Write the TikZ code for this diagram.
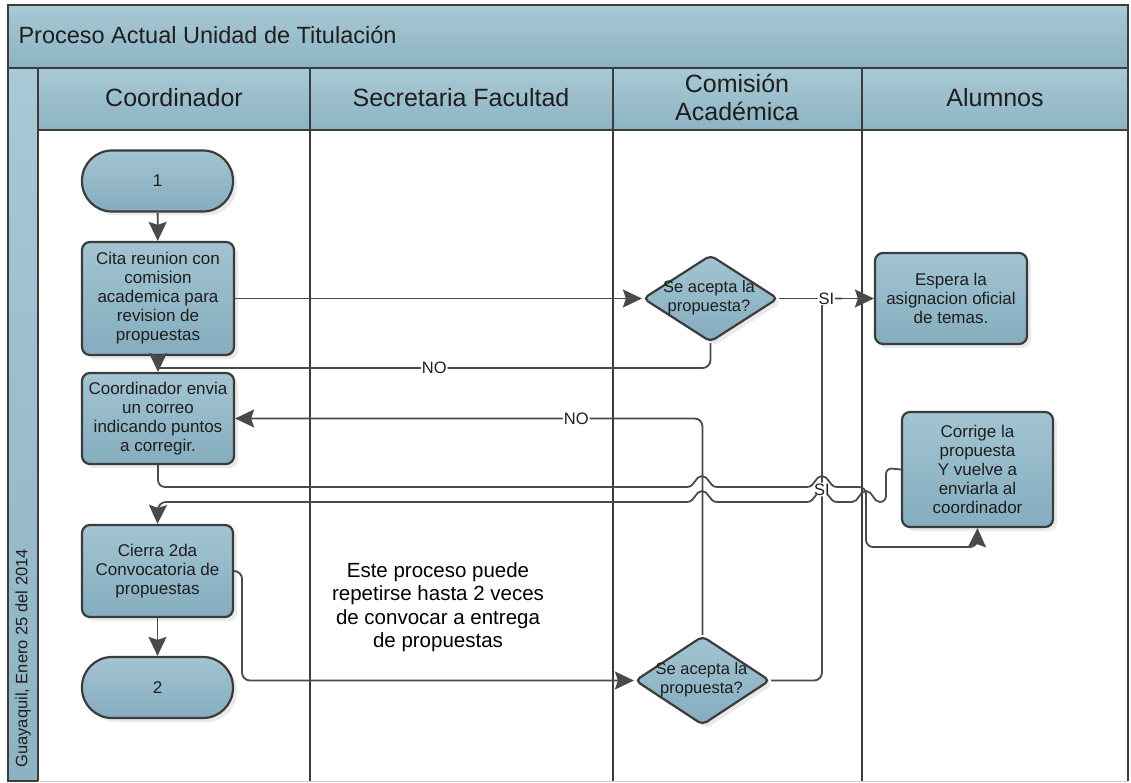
\documentclass[tikz,border=0pt]{standalone}
\usepackage{fontspec}
\setmainfont{Liberation Sans}
\usetikzlibrary{arrows.meta,shapes.geometric,shadows}

\definecolor{laneline}{HTML}{3C3C3C}
\definecolor{connline}{HTML}{4A4A4A}
\definecolor{boxtop}{HTML}{A3C4D1}
\definecolor{boxbot}{HTML}{84ADBF}
\definecolor{headtop}{HTML}{A8C9D5}
\definecolor{headbot}{HTML}{8DB3C3}
\definecolor{inktext}{HTML}{1E1E1E}

\begin{document}
\begin{tikzpicture}[x=1pt,y=-1pt,
  every node/.style={text=inktext},
  shade/.style={drop shadow={shadow xshift=4pt,shadow yshift=-4pt,opacity=0.16}},
  flowbox/.style={draw=laneline, line width=2.2pt, rounded corners=8pt,
    top color=boxtop, bottom color=boxbot, align=center, inner sep=0pt,
    font=\fontsize{17}{19}\selectfont, shade},
  terminal/.style={flowbox, rounded corners=30pt, minimum width=151pt, minimum height=61pt},
  decision/.style={draw=laneline, line width=2.2pt, diamond, rounded corners=5pt,
    top color=boxtop, bottom color=boxbot, inner sep=0pt, shade},
  dtext/.style={align=center, inner sep=0pt, font=\fontsize{16.5}{19}\selectfont},
  cell/.style={draw=laneline, line width=2.5pt, top color=headtop, bottom color=headbot},
  headtext/.style={align=center, font=\fontsize{25}{28}\selectfont},
  lane/.style={draw=laneline, line width=2.5pt},
  conn/.style={draw=connline, line width=1.8pt},
  arrow/.style={-{Stealth[length=19pt,width=18pt,inset=3pt]}},
  lbl/.style={fill=white, inner sep=1pt, font=\fontsize{16.5}{19}\selectfont}
]
\useasboundingbox (0,0) rectangle (1131,783);
\fill[white] (0,0) rectangle (1131,783);

% frame, title bar and lane headers
\path[cell] (8,5) rectangle (1128,68);
\node[anchor=west, font=\fontsize{23.5}{28}\selectfont] (title) at (15,35) {Proceso Actual Unidad de Titulación};
\path[cell] (8,68) rectangle (38,781);
\path[cell] (38,68) rectangle (310,130);
\path[cell] (310,68) rectangle (613,130);
\path[cell] (613,68) rectangle (862,130);
\path[cell] (862,68) rectangle (1128,130);
\node[headtext] (hcoord) at (174,98) {Coordinador};
\node[headtext] (hsecr) at (461,98) {Secretaria Facultad};
\node[headtext] (hcomi) at (737,97) {Comisión\\Académica};
\node[headtext] (halum) at (995,98) {Alumnos};
\draw[lane] (310,130) -- (310,781);
\draw[lane] (613,130) -- (613,781);
\draw[lane] (862,130) -- (862,781);
\draw[lane] (1128,130) -- (1128,781);
\draw[gray!40, line width=1pt] (38,781) -- (1128,781);
\node[rotate=90, anchor=west, font=\fontsize{16.5}{19}\selectfont] (datenote) at (23,771) {Guayaquil, Enero 25 del 2014};

% process steps
\node[terminal] (t1) at (157.5,181) {1};
\node[flowbox, minimum width=152pt, minimum height=113pt] (b1) at (158,298.5)
  {Cita reunion con\\comision\\academica para\\revision de\\propuestas};
\node[flowbox, minimum width=152pt, minimum height=91pt] (b2) at (158,418.5)
  {Coordinador envia\\un correo\\indicando puntos\\a corregir.};
\node[flowbox, minimum width=151pt, minimum height=92pt] (b3) at (157.5,571)
  {Cierra 2da\\Convocatoria de\\propuestas};
\node[terminal] (t2) at (157.5,687.5) {2};
\node[decision, minimum width=135pt, minimum height=87pt] (dA) at (710.5,298.5) {};
\node[dtext] (dAtext) at (709,297.5) {Se acepta la\\propuesta?};
\node[decision, minimum width=135pt, minimum height=89pt] (dB) at (702.5,680.5) {};
\node[dtext] (dBtext) at (701.5,680) {Se acepta la\\propuesta?};
\node[flowbox, minimum width=152pt, minimum height=91pt] (eA) at (951,298.5)
  {Espera la\\asignacion oficial\\de temas.};
\node[flowbox, minimum width=151pt, minimum height=115pt] (cB) at (977.5,469.5)
  {Corrige la\\propuesta\\Y vuelve a\\enviarla al\\coordinador};
\node[align=center, font=\fontsize{20.5}{23.5}\selectfont, text=black] (note) at (438,607)
  {Este proceso puede\\repetirse hasta 2 veces\\de convocar a entrega\\de propuestas};

% connectors
\draw[conn, arrow] (t1) -- (b1);
\draw[conn, arrow] (b1) -- (b2);
\draw[conn, arrow] (b3) -- (t2);
\draw[conn, arrow] (b1.east) -- (dA.west);
\draw[conn] (dA.south) [rounded corners=8pt] -- (710.5,368) -- node[lbl]{NO} (158,368);
\draw[conn, arrow] (dB.north) [rounded corners=8pt] -- (702.5,418.5) -- node[lbl, pos=0.27]{NO} (b2.east);
\draw[conn, arrow] (b3.east) [rounded corners=8pt] -- (242,571) -- (242,680.5) -- (dB.west);

% correction sent to the students, hopping over crossing lines
\draw[conn, arrow] (b2.south) [rounded corners=7pt] -- (158,487) [sharp corners] -- (687,487)
  .. controls (695,487) and (695,476) .. (702,476) .. controls (709,476) and (709,487) .. (717,487)
  -- (807,487)
  .. controls (815,487) and (815,476) .. (822,476) .. controls (829,476) and (829,487) .. (837,487)
  [rounded corners=7pt] -- (866,487) -- (866,547) -- (977,547) [sharp corners] -- (cB.south);

% corrected proposal back to the coordinator
\draw[conn, arrow] (cB.west) [rounded corners=6pt] -- (886,468) -- (886,502) [sharp corners] -- (880,502)
  .. controls (873,502) and (873,491) .. (866,491) .. controls (859,491) and (859,502) .. (852,502)
  -- (837,502)
  .. controls (829,502) and (829,491) .. (822,491) .. controls (815,491) and (815,502) .. (807,502)
  -- (717,502)
  .. controls (709,502) and (709,491) .. (702,491) .. controls (695,491) and (695,502) .. (687,502)
  [rounded corners=8pt] -- (158,502) [sharp corners] -- (b3.north);

% accepted proposals
\draw[conn] (dB.east) [rounded corners=8pt] -- (822,680.5) -- node[lbl]{SI} (822,298.5) -- (842,298.5);
\draw[conn, arrow] (dA.east) -- node[lbl]{SI} (eA.west);
\end{tikzpicture}
\end{document}
